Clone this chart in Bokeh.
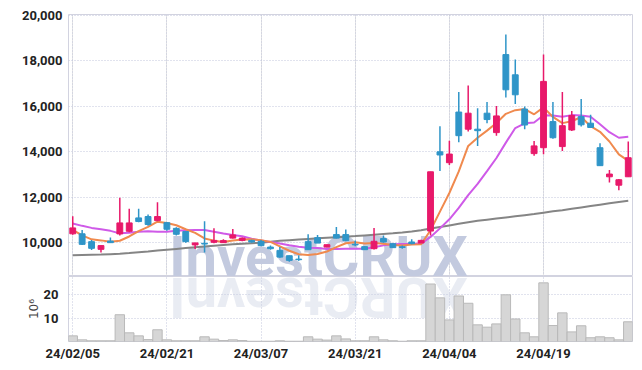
import math
from bokeh.plotting import figure
from bokeh.layouts import column
from bokeh.models import ColumnDataSource, FixedTicker, NumeralTickFormatter, Range1d, Grid
from bokeh.core.properties import value
from bokeh.embed import file_html
from bokeh.resources import INLINE

# ---------------- data ----------------
dates = ["24/02/05", "24/02/06", "24/02/07", "24/02/08", "24/02/13", "24/02/14", "24/02/15", "24/02/16",
         "24/02/19", "24/02/20", "24/02/21", "24/02/22", "24/02/23", "24/02/26", "24/02/27", "24/02/28",
         "24/02/29", "24/03/04", "24/03/05", "24/03/06", "24/03/07", "24/03/08", "24/03/11", "24/03/12",
         "24/03/13", "24/03/14", "24/03/15", "24/03/18", "24/03/19", "24/03/20", "24/03/21", "24/03/22",
         "24/03/25", "24/03/26", "24/03/27", "24/03/28", "24/03/29", "24/04/01", "24/04/02", "24/04/03",
         "24/04/04", "24/04/05", "24/04/08", "24/04/09", "24/04/11", "24/04/12", "24/04/15", "24/04/16",
         "24/04/17", "24/04/18", "24/04/19", "24/04/22", "24/04/23", "24/04/24", "24/04/25", "24/04/26",
         "24/04/29", "24/04/30", "24/05/02", "24/05/03"]

opens = [10390, 10390, 10045, 9705, 10070, 10385, 10500, 11090, 11150, 10970,
         10880, 10630, 10490, 9900, 9970, 10015, 10000, 10200, 10100, 10100,
         10060, 9805, 9660, 9425, 9275, 10045, 10220, 9805, 10355, 10355,
         9930, 9825, 9735, 10180, 9955, 9820, 10030, 9985, 10510, 14000,
         13520, 15750, 14995, 14995, 15700, 14845, 18280, 17390, 15880, 13920,
         14180, 15330, 14230, 14960, 15550, 15260, 14180, 12900, 12530, 12900]
highs = [11160, 10560, 10120, 9880, 10230, 11975, 11490, 11490, 11240, 11780,
         10900, 10680, 10490, 9990, 10940, 10630, 10150, 10600, 10230, 10130,
         10120, 9880, 9805, 9425, 9440, 10370, 10335, 9910, 10690, 10575,
         10100, 9840, 10645, 10320, 9960, 9880, 10150, 10130, 13120, 15130,
         14490, 16630, 16920, 15920, 16190, 16020, 19160, 18060, 15990, 14480,
         18280, 16190, 16630, 15800, 16330, 15630, 14380, 13200, 12800, 14450]
lows = [10350, 9900, 9680, 9570, 9990, 10310, 10455, 10900, 10740, 10940,
        10520, 10310, 10000, 9720, 9570, 9970, 9990, 10180, 10060, 10000,
        9840, 9690, 9340, 9160, 9200, 9690, 9980, 9805, 10180, 10060,
        9840, 9680, 9700, 10000, 9760, 9730, 9930, 9980, 10320, 13160,
        13420, 14420, 14890, 14260, 15260, 14710, 16390, 16100, 14990, 13830,
        13890, 14570, 14040, 14920, 15110, 15070, 13390, 12650, 12310, 12900]
closes = [10650, 9925, 9750, 9870, 10000, 10870, 10870, 10930, 10800, 11150,
          10590, 10370, 10045, 9990, 9940, 10100, 10090, 10340, 10200, 10030,
          9870, 9735, 9365, 9220, 9250, 9690, 9980, 9910, 10200, 10090,
          9900, 9690, 10060, 10030, 9780, 9790, 9955, 10100, 13120, 13860,
          13900, 14710, 15700, 14930, 15420, 15580, 16730, 16510, 15180, 14260,
          17100, 14620, 15150, 15600, 15190, 15070, 13390, 13020, 12770, 13740]

ma5 = [10560, 10320, 10145, 10100, 10039, 10083, 10272, 10508, 10694, 10924,
       10868, 10768, 10591, 10429, 10187, 10089, 10033, 10092, 10134, 10152,
       10106, 10035, 9840, 9644, 9488, 9452, 9501, 9610, 9806, 9974,
       10016, 9958, 9988, 9954, 9892, 9870, 9923, 9931, 10549, 11365,
       12187, 13138, 14258, 14620, 14932, 15268, 15672, 15834, 15884, 15652,
       15956, 15534, 15262, 15346, 15532, 15126, 14880, 14454, 13888, 13598]
ma10 = [10840, 10740, 10650, 10590, 10520, 10410, 10440, 10480, 10500, 10482,
        10476, 10520, 10550, 10562, 10556, 10479, 10401, 10342, 10282, 10170,
        10098, 10034, 9966, 9889, 9820, 9779, 9768, 9725, 9725, 9731,
        9734, 9730, 9799, 9880, 9933, 9943, 9941, 9960, 10252, 10629,
        11029, 11531, 12095, 12585, 13149, 13728, 14405, 15046, 15252, 15292,
        15612, 15603, 15548, 15615, 15596, 15545, 15211, 14862, 14619, 14667]
ma60 = [9450, 9460, 9470, 9480, 9495, 9510, 9540, 9575, 9610, 9650,
        9690, 9725, 9760, 9795, 9830, 9865, 9900, 9925, 9950, 9975,
        10000, 10040, 10080, 10110, 10140, 10165, 10190, 10215, 10240, 10265,
        10290, 10320, 10350, 10380, 10410, 10445, 10490, 10545, 10620, 10690,
        10760, 10830, 10900, 10960, 11010, 11060, 11110, 11160, 11210, 11260,
        11320, 11380, 11430, 11490, 11550, 11610, 11670, 11730, 11790, 11840]

volume_m = [2.4, 0.7, 0.3, 0.3, 0.3, 11.4, 3.7, 2.4, 0.8, 5.0,
            0.7, 0.3, 0.3, 0.3, 2.0, 1.0, 0.4, 0.7, 0.4, 0.1,
            0.1, 0.1, 0.3, 0.1, 0.1, 2.0, 1.0, 0.6, 2.4, 1.1,
            0.3, 0.3, 2.0, 0.7, 0.3, 0.1, 0.3, 0.3, 24.5, 18.6,
            9.2, 19.4, 16.3, 7.1, 6.1, 7.5, 19.9, 9.6, 3.7, 2.0,
            25.0, 6.8, 12.2, 4.1, 6.7, 1.6, 2.0, 1.6, 0.7, 8.4]

price_ticks = [10000, 12000, 14000, 16000, 18000, 20000]
volume_ticks = [10, 20]
date_tick_idx = [0, 10, 20, 30, 40, 50]
watermark = "InvestCRUX"

# ---------------- styling ----------------
UP = "#e8196a"
DOWN = "#2f95c8"
GRID = "#c3c6dc"
OUTLINE = "#d2d3e0"
LABEL_FONT = "Roboto"
WM_FONT = "Roboto"
WM_COLOR = "#c3cadf"

n = len(closes)
xs = list(range(n))
up = [c >= o for o, c in zip(opens, closes)]

def sub(mask):
    return ColumnDataSource(dict(
        x=[x for x, m in zip(xs, mask) if m],
        high=[h for h, m in zip(highs, mask) if m],
        low=[l for l, m in zip(lows, mask) if m],
        top=[max(o, c) for o, c, m in zip(opens, closes, mask) if m],
        bottom=[min(o, c) for o, c, m in zip(opens, closes, mask) if m],
    ))

src_up = sub(up)
src_dn = sub([not u for u in up])

x_range = Range1d(-0.45, n - 0.55)

def style_axis(ax, standoff):
    ax.axis_line_color = None
    ax.major_tick_line_color = None
    ax.minor_tick_line_color = None
    ax.major_tick_out = 0
    ax.major_tick_in = 0
    ax.minor_tick_out = 0
    ax.minor_tick_in = 0
    ax.major_label_standoff = standoff
    ax.major_label_text_font = LABEL_FONT
    ax.major_label_text_font_style = "bold"
    ax.major_label_text_font_size = "13px"
    ax.major_label_text_color = "#222222"

# ---------------- price panel ----------------
p = figure(frame_width=564, frame_height=262, x_range=x_range, y_range=Range1d(8510, 20045),
           output_backend="svg", toolbar_location=None, x_axis_location=None,
           min_border_left=68, min_border_right=10, min_border_top=14, min_border_bottom=0)
p.outline_line_color = OUTLINE
p.background_fill_color = "white"
p.border_fill_color = "white"

p.yaxis.ticker = FixedTicker(ticks=price_ticks)
p.yaxis.formatter = NumeralTickFormatter(format="0,0")
style_axis(p.yaxis[0], 6)
p.ygrid.grid_line_color = GRID
p.ygrid.grid_line_dash = "1 2"
p.add_layout(Grid(dimension=0, ticker=FixedTicker(ticks=date_tick_idx),
                  grid_line_color=GRID, grid_line_dash="1 2"))

# watermark
p.text(x=[26.1], y=[9360], text=[watermark], text_align="center", text_baseline="alphabetic",
       text_font=value(WM_FONT), text_font_style="bold", text_font_size="56px",
       text_color=WM_COLOR)

p.line(xs, ma60, line_color="#858585", line_width=2)
p.line(xs, ma10, line_color="#cf5ae8", line_width=2)
p.line(xs, ma5, line_color="#f08a4e", line_width=2)

for s, col in ((src_up, UP), (src_dn, DOWN)):
    p.segment(x0="x", y0="low", x1="x", y1="high", source=s, line_color=col, line_width=1.5)
    p.vbar(x="x", width=0.62, top="top", bottom="bottom", source=s,
           fill_color=col, line_color=col, line_width=1)

# ---------------- volume panel ----------------
v = figure(frame_width=564, frame_height=65, x_range=x_range, y_range=Range1d(0, 27.7),
           output_backend="svg", toolbar_location=None,
           min_border_left=68, min_border_right=10, min_border_top=0, min_border_bottom=20)
v.outline_line_color = OUTLINE
v.yaxis.ticker = FixedTicker(ticks=volume_ticks)
style_axis(v.yaxis[0], 10)
v.yaxis.axis_label = "10\u2076"
v.yaxis.axis_label_text_font = "DejaVu Sans"
v.yaxis.axis_label_text_font_style = "normal"
v.yaxis.axis_label_text_font_size = "12px"
v.yaxis.axis_label_text_color = "#444444"
v.yaxis.axis_label_standoff = 0

v.xaxis.ticker = FixedTicker(ticks=date_tick_idx)
v.xaxis.major_label_overrides = {i: dates[i] for i in date_tick_idx}
style_axis(v.xaxis[0], 4)
v.xgrid.ticker = FixedTicker(ticks=date_tick_idx)
v.xgrid.grid_line_color = GRID
v.xgrid.grid_line_dash = "1 2"
v.ygrid.grid_line_color = GRID
v.ygrid.grid_line_dash = "1 2"

# reflected watermark (rotated, faded)
v.text(x=[26.1], y=[18.8], text=[watermark[::-1]], angle=math.pi, text_align="center",
       text_baseline="alphabetic", text_font=value(WM_FONT), text_font_style="bold",
       text_font_size="56px", text_color="#c9cfe2", text_alpha=0.4)

v.vbar(x=xs, width=1.0, top=volume_m, bottom=0, fill_color="#d6d6d6", line_color="#b9b9b9",
       line_width=1)

layout = column(p, v, spacing=0)
open("out.html", "w").write(file_html(layout, INLINE))
